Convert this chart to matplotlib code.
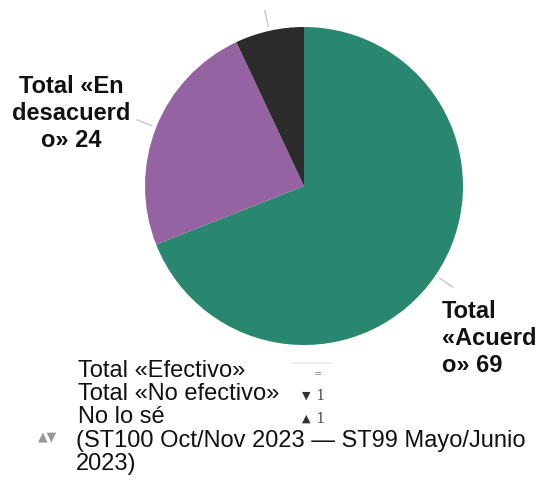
import matplotlib.pyplot as plt
import numpy as np

# pie data
slice_names = ['Total «Acuerdo»', 'Total «En desacuerdo»', 'No lo sé']
slice_values = [69, 24, 7]
slice_colors = ['#29876f', '#9563a1', '#2b2b2b']

# legend rows and change vs previous wave
legend_labels = ['Total «Efectivo»', 'Total «No efectivo»', 'No lo sé']
legend_arrows = ['=', '▼', '▲']
legend_changes = ['', '1', '1']
period_note = ['(ST100 Oct/Nov 2023 — ST99 Mayo/Junio', '2023)']

W, H = 541, 490
fig = plt.figure(figsize=(W / 100, H / 100), dpi=100)

def fx(x):
    return x / W

def fy(y):
    return 1 - y / H

ax = fig.add_axes([fx(145), fy(345), 318 / W, 318 / H])
wedges, _ = ax.pie(slice_values, colors=slice_colors, startangle=90,
                   counterclock=False, radius=1,
                   wedgeprops=dict(linewidth=0))
ax.set_xlim(-1, 1)
ax.set_ylim(-1, 1)
ax.set_aspect('equal')
ax.axis('off')

# leader lines at each wedge middle
for w in wedges:
    a = np.deg2rad((w.theta1 + w.theta2) / 2)
    r = np.array([1.03, 1.13])
    ax.plot(r * np.cos(a), r * np.sin(a), color='#c8c8c8', lw=1, clip_on=False)

lab_font = dict(family='Liberation Sans', fontsize=17, fontweight='bold', color='#111111')
fig.text(fx(442), fy(318), 'Total', ha='left', va='baseline', **lab_font)
fig.text(fx(442), fy(345), '«Acuerd', ha='left', va='baseline', **lab_font)
fig.text(fx(442), fy(372), 'o» %d' % slice_values[0], ha='left', va='baseline', **lab_font)

fig.text(fx(71), fy(93), 'Total «En', ha='center', va='baseline', **lab_font)
fig.text(fx(71), fy(120), 'desacuerd', ha='center', va='baseline', **lab_font)
fig.text(fx(71), fy(147), 'o» %d' % slice_values[1], ha='center', va='baseline', **lab_font)

# legend
leg_font = dict(family='Liberation Sans', fontsize=17, color='#111111')
row_y = [377, 400, 423]
for lab, arr, ch, y in zip(legend_labels, legend_arrows, legend_changes, row_y):
    fig.text(fx(78), fy(y), lab, ha='left', va='baseline', **leg_font)
    if arr == '=':
        fig.text(fx(318), fy(y - 3), arr, ha='center', va='center',
                 fontsize=7, color='#999999', family='DejaVu Sans')
    else:
        fig.text(fx(306), fy(y - 4), arr, ha='center', va='center',
                 fontsize=8, color='#333333', family='DejaVu Sans')
        fig.text(fx(315), fy(y), ch, ha='left', va='baseline',
                 fontsize=11, color='#555555', family='DejaVu Serif')

fig.add_artist(plt.Line2D([fx(292), fx(330)], [fy(363), fy(363)],
                          color='#eeeeee', lw=1.5))

fig.text(fx(76), fy(447), period_note[0], ha='left', va='baseline', **leg_font)
fig.text(fx(76), fy(470), period_note[1], ha='left', va='baseline', **leg_font)
fig.text(fx(48), fy(437), '▲▼', ha='center', va='center',
         fontsize=9, color='#999999', family='DejaVu Sans')

fig.savefig('out.png', dpi=100)
